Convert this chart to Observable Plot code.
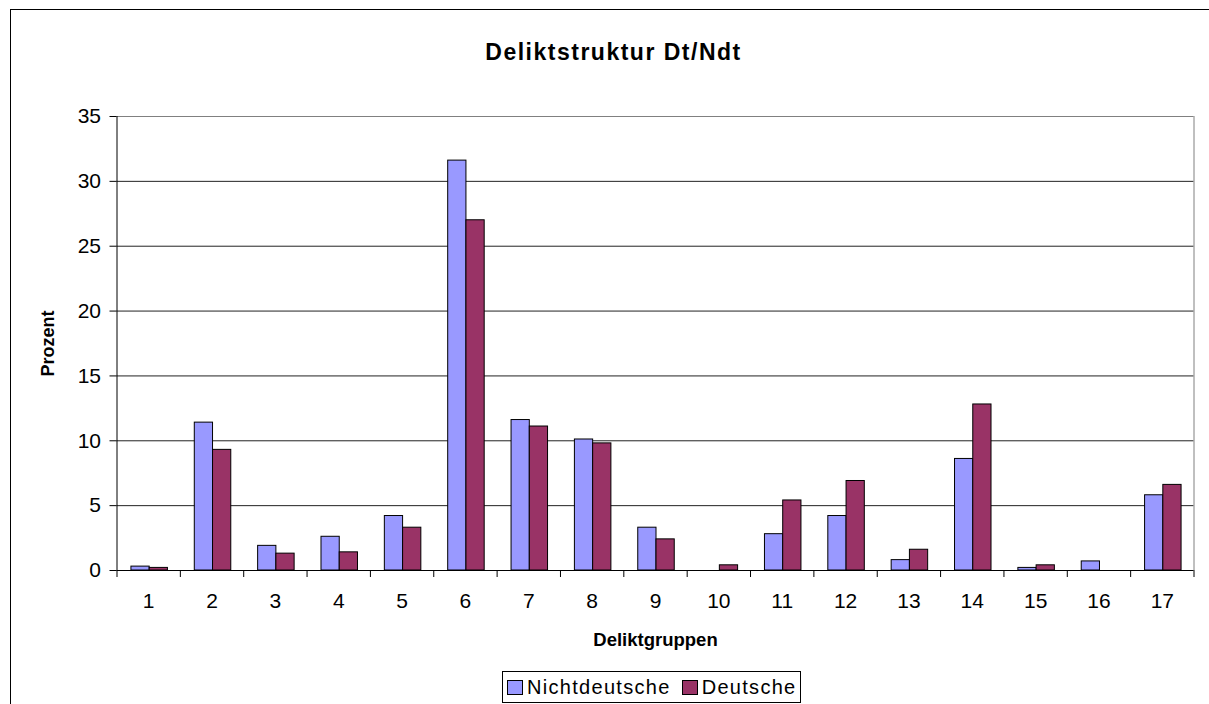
<!DOCTYPE html>
<html>
<head>
<meta charset="utf-8">
<script src="https://cdn.jsdelivr.net/npm/d3@7"></script>
<script src="https://cdn.jsdelivr.net/npm/@observablehq/plot@0.6"></script>
<style>
  html, body { margin: 0; padding: 0; background: #fff; overflow: hidden; }
  body { width: 1209px; height: 704px; position: relative; font-family: "Liberation Sans", Arial, sans-serif; }
  #frame { position: absolute; left: 10px; top: 9px; right: -100px; bottom: -100px; border-left: 1px solid #000; border-top: 1px solid #000; }
  #title { width: 1205px; height: 80px; box-sizing: border-box; padding-top: 28px; text-align: center;
           font-weight: bold; font-size: 23px; line-height: 28px; letter-spacing: 1.5px; color: #000; }
  #chart svg { display: block; overflow: visible; }
  g[aria-label="xlab"] text { letter-spacing: 2.2px; }
  g[aria-label="ylab"] text { letter-spacing: 1px; }
  #legend { margin-left: 491px; margin-top: 11px; width: 299px; height: 32px; box-sizing: border-box;
            border: 1px solid #000; display: flex; align-items: center; font-size: 20px; letter-spacing: 1.3px; color: #000; }
  .sw { width: 16px; height: 15px; box-sizing: border-box; border: 1px solid #000; display: inline-block; }
</style>
</head>
<body>
<div id="frame">
  <div id="title">Deliktstruktur Dt/Ndt</div>
  <div id="chart"></div>
  <div id="legend"></div>
</div>
<script>
// ---- data ----
const groups = [1, 2, 3, 4, 5, 6, 7, 8, 9, 10, 11, 12, 13, 14, 15, 16, 17];
const nichtdeutsche = [0.3, 11.4, 1.9, 2.6, 4.2, 31.6, 11.6, 10.1, 3.3, 0, 2.8, 4.2, 0.8, 8.6, 0.2, 0.7, 5.8];
const deutsche = [0.2, 9.3, 1.3, 1.4, 3.3, 27.0, 11.1, 9.8, 2.4, 0.4, 5.4, 6.9, 1.6, 12.8, 0.4, 0, 6.6];
const seriesNames = ["Nichtdeutsche", "Deutsche"];
const seriesColors = ["#9999FF", "#993366"];
const yTicks = [0, 5, 10, 15, 20, 25, 30, 35];

// ---- build table ----
const rows = [];
groups.forEach((g, i) => {
  rows.push({group: g, series: seriesNames[0], value: nichtdeutsche[i], k: 0});
  rows.push({group: g, series: seriesNames[1], value: deutsche[i], k: 1});
});
const barW = 0.288;
const xMin = groups[0] - 0.5;
const xMax = groups[groups.length - 1] + 0.5;
const yMin = yTicks[0];
const yMax = yTicks[yTicks.length - 1];
const boundaries = groups.map(g => g - 0.5).concat([xMax]);

const chart = Plot.plot({
  width: 1198,
  height: 570,
  marginLeft: 105.5,
  marginRight: 15.5,
  marginTop: 26,
  marginBottom: 90,
  style: {fontFamily: "'Liberation Sans', Arial, sans-serif", fontSize: "21px", color: "#000", background: "transparent", overflow: "visible"},
  x: {domain: [xMin, xMax], axis: null},
  y: {domain: [yMin, yMax], axis: null},
  color: {domain: seriesNames, range: seriesColors},
  marks: [
    Plot.ruleY(yTicks.slice(1, -1), {stroke: "#222", strokeWidth: 1}),
    Plot.ruleY([yMax], {stroke: "#808080"}),
    Plot.ruleX([xMax], {y1: yMin, y2: yMax, stroke: "#808080"}),
    Plot.rectY(rows, {
      x1: d => d.k === 0 ? d.group - barW : d.group,
      x2: d => d.k === 0 ? d.group : d.group + barW,
      y: "value",
      fill: "series",
      stroke: "#000",
      strokeWidth: 1,
      dx: 1
    }),
    Plot.ruleY([yMin], {stroke: "#000"}),
    Plot.ruleX([xMin], {stroke: "#000"}),
    Plot.axisY({ticks: yTicks, tickSize: 7, tickPadding: 9, fontSize: 21, label: null, stroke: "#000"}),
    Plot.axisX({ticks: groups, tickSize: 0, tickPadding: 23, fontSize: 21, label: null, tickFormat: d => String(d)}),
    Plot.axisX({ticks: boundaries, tickSize: 7, label: null, tickFormat: () => "", stroke: "#000"}),
    Plot.text(["Deliktgruppen"], {frameAnchor: "bottom", dy: 75, lineAnchor: "bottom", textAnchor: "middle", fontWeight: "bold", fontSize: 18.5, fill: "#000", ariaLabel: "xlab"}),
    Plot.text(["Prozent"], {frameAnchor: "left", rotate: -90, dx: -63, lineAnchor: "bottom", textAnchor: "middle", fontWeight: "bold", fontSize: 18, fill: "#000", ariaLabel: "ylab"})
  ]
});
document.getElementById("chart").appendChild(chart);

// ---- legend ----
const legend = document.getElementById("legend");
seriesNames.forEach((name, i) => {
  const sw = document.createElement("span");
  sw.className = "sw";
  sw.style.background = seriesColors[i];
  sw.style.marginLeft = i === 0 ? "4px" : "11px";
  const t = document.createElement("span");
  t.textContent = name;
  t.style.marginLeft = "4px";
  legend.appendChild(sw);
  legend.appendChild(t);
});
</script>
</body>
</html>
